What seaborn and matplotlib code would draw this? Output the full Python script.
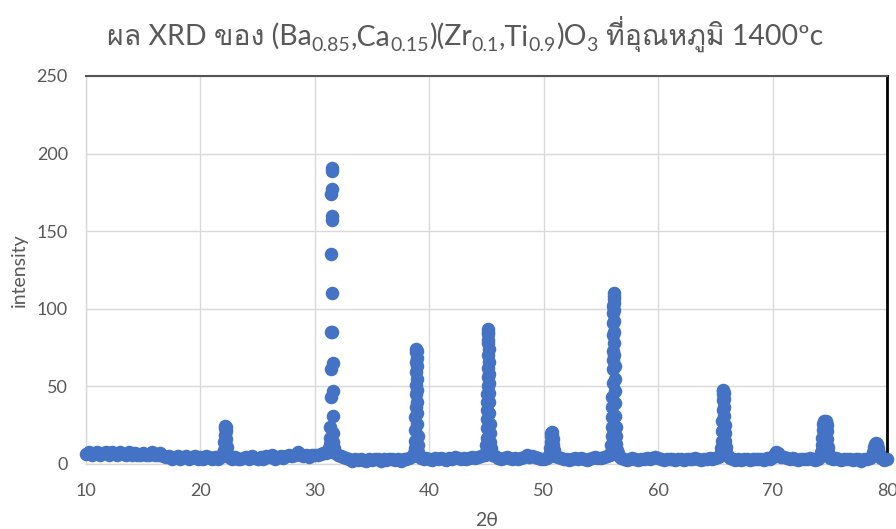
import numpy as np
import pandas as pd
import matplotlib
matplotlib.use("Agg")
import matplotlib.pyplot as plt
import seaborn as sns
from matplotlib import font_manager as fm
from matplotlib.ft2font import FT2Font

# ---------------- data (2theta, intensity) ----------------
base_2theta = [10.0, 10.25, 10.5, 10.75, 11.0, 11.25, 11.5, 11.75, 12.0, 12.25, 12.5, 12.75,
               13.0, 13.25, 13.5, 13.75, 14.0, 14.25, 14.5, 14.75, 15.0, 15.25, 15.5, 15.75,
               16.0, 16.25, 16.5, 16.75, 17.0, 17.25, 17.5, 17.75, 18.0, 18.25, 18.5, 18.75,
               19.0, 19.25, 19.5, 19.75, 20.0, 20.25, 20.5, 20.75, 21.0, 21.25, 21.5, 21.75,
               22.5, 22.75, 23.0, 23.25, 23.5, 23.75, 24.0, 24.25, 24.5, 24.75,
               25.0, 25.25, 25.5, 25.75, 26.0, 26.25, 26.5, 26.75, 27.0, 27.25, 27.5, 27.75,
               28.0, 28.25, 28.5, 28.75, 29.0, 29.25, 29.5, 29.75, 30.0, 30.25, 30.5, 30.75,
               31.75, 32.0, 32.25, 32.5, 32.75, 33.0, 33.25, 33.5, 33.75,
               34.0, 34.25, 34.5, 34.75, 35.0, 35.25, 35.5, 35.75, 36.0, 36.25, 36.5, 36.75,
               37.0, 37.25, 37.5, 37.75, 38.0, 38.25,
               39.0, 39.25, 39.5, 39.75, 40.0, 40.25, 40.5, 40.75, 41.0, 41.25, 41.5, 41.75,
               42.0, 42.25, 42.5, 42.75, 43.0, 43.25, 43.5, 43.75, 44.0, 44.25, 44.5,
               45.75, 46.0, 46.25, 46.5, 46.75, 47.0, 47.25, 47.5, 47.75,
               48.0, 48.25, 48.5, 48.75, 49.0, 49.25, 49.5, 49.75, 50.0, 50.25,
               51.25, 51.5, 51.75, 52.0, 52.25, 52.5, 52.75, 53.0, 53.25, 53.5, 53.75,
               54.0, 54.25, 54.5, 54.75, 55.0, 55.25, 55.5,
               56.6, 56.75, 57.0, 57.25, 57.5, 57.75, 58.0, 58.25, 58.5, 58.75,
               59.0, 59.25, 59.5, 59.75, 60.0, 60.25, 60.5, 60.75, 61.0, 61.25, 61.5, 61.75,
               62.0, 62.25, 62.5, 62.75, 63.0, 63.25, 63.5, 63.75, 64.0, 64.25, 64.5, 64.75,
               65.0, 65.2,
               66.1, 66.3, 66.5, 66.75, 67.0, 67.25, 67.5, 67.75, 68.0, 68.25, 68.5, 68.75,
               69.0, 69.25, 69.5, 69.75, 70.0, 70.15, 70.3, 70.45, 70.6, 70.75,
               71.0, 71.25, 71.5, 71.75, 72.0, 72.25, 72.5, 72.75, 73.0, 73.25, 73.5, 73.75,
               74.0,
               75.0, 75.25, 75.5, 75.75, 76.0, 76.25, 76.5, 76.75, 77.0, 77.25, 77.5, 77.75,
               78.0, 78.25, 78.5,
               79.5, 79.75, 80.0]
base_int = [6.5, 7.5, 6, 7, 7.5, 6, 7, 7.5, 6, 7.5, 6.5, 6,
            7.5, 6.5, 6, 7.5, 6, 7, 5.5, 6, 7, 5.5, 6, 7.5,
            6, 5.5, 7, 5, 4.5, 5, 3.5, 4.5, 5, 3.5, 4.5, 5,
            3.5, 4.5, 5, 3.5, 4.5, 3.5, 5, 4.5, 3.5, 4.5, 3.5, 5,
            4.5, 3.5, 4.5, 3.5, 3, 4, 4.5, 3.5, 5, 4,
            3.5, 4.5, 3.5, 5, 4.5, 5.5, 3.5, 4.5, 5, 4, 5, 5.5,
            5, 6, 7.5, 6, 5, 5.5, 4.5, 6, 5.5, 6, 6.5, 7,
            7, 6, 5, 4.5, 4, 3, 2, 3.5, 2.5,
            3.5, 2.5, 2, 3.5, 2.5, 3.5, 3, 2, 3.5, 2.5, 3.5, 3,
            2.5, 3.5, 2, 3, 3.5, 4,
            5, 4, 3, 4, 3.5, 2.5, 4, 3.5, 4, 3, 2.5, 4,
            3.5, 4.5, 4, 3, 4, 3.5, 4, 4.5, 4, 4.5, 5,
            5, 4, 3, 4, 4.5, 4, 3, 4, 3.5,
            4, 4.5, 5.5, 4.5, 5, 4.5, 4, 3, 3.5, 4,
            4.5, 4, 3, 3.5, 2.5, 3.5, 4, 3.5, 4, 3, 2.5,
            3.5, 4, 4.5, 4, 4, 4.5, 5,
            5, 4, 3, 2.5, 3.5, 4, 3.5, 2.5, 3.5, 3,
            4, 3.5, 4, 4.5, 4, 3, 2.5, 3.5, 3, 3.5, 2.5, 3.5,
            3.5, 2.5, 3.5, 3, 3.5, 4, 3.5, 2.5, 3.5, 3, 4, 3.5,
            4, 4.5,
            5, 4, 3, 2.5, 3.5, 2.5, 3.5, 3, 2.5, 3.5, 3, 3.5,
            3.5, 2.5, 4, 3.5, 4.5, 6, 7.5, 7, 5.5, 4.5,
            4.5, 4, 3, 4, 3.5, 2.5, 3.5, 3, 3.5, 4, 3.5, 2.5,
            3.5,
            4, 3, 4, 3.5, 2.5, 3.5, 3, 3.5, 2.5, 3.5, 3, 2,
            3, 3.5, 4,
            4, 2.5, 3.5]

peak22_2theta = [21.95, 22.0, 22.04, 22.08, 22.11, 22.14, 22.17, 22.2, 22.23, 22.26, 22.3, 22.35, 22.4]
peak22_int = [5, 6, 9, 14, 19, 23, 24.5, 24, 21, 16, 11, 7, 5]

peak31_2theta = [31.0, 31.1, 31.18, 31.24, 31.28, 31.31, 31.34, 31.37, 31.39, 31.40, 31.42, 31.44,
                 31.46, 31.48, 31.50, 31.51, 31.52, 31.53, 31.54, 31.56, 31.57, 31.58, 31.60,
                 31.62, 31.65, 31.70]
peak31_int = [7, 8, 9, 10, 13, 17, 24, 43, 61, 85, 135, 174,
              191, 189, 177, 160, 157, 110, 85, 65, 47, 31, 20,
              14, 10, 8]

peak38_2theta = [38.6, 38.67, 38.72, 38.75, 38.77, 38.79, 38.81, 38.83, 38.84, 38.85, 38.86, 38.87,
                 38.88, 38.89, 38.90, 38.91, 38.92, 38.93, 38.94, 38.95, 38.97, 38.99, 39.02,
                 39.05, 39.1]
peak38_int = [5, 7, 10, 15, 22, 30, 37, 45, 51, 59, 66, 72,
              74, 73, 68, 63, 55, 48, 40, 33, 26, 18, 12,
              8, 6]

peak45_2theta = [44.85, 44.93, 44.98, 45.01, 45.03, 45.05, 45.06, 45.07, 45.08, 45.09, 45.10, 45.11,
                 45.12, 45.13, 45.14, 45.15, 45.16, 45.17, 45.18, 45.19, 45.20, 45.21, 45.22,
                 45.23, 45.25, 45.27, 45.30, 45.33, 45.37, 45.43, 45.5]
peak45_int = [6, 8, 12, 17, 23, 29, 35, 40, 45, 50, 56, 62,
              70, 78, 85, 87, 84, 80, 74, 66, 58, 52, 46,
              40, 33, 26, 20, 14, 10, 7, 6]

peak50_2theta = [50.45, 50.52, 50.56, 50.6, 50.64, 50.68, 50.72, 50.76, 50.8, 50.84, 50.88, 50.94, 51.0]
peak50_int = [5, 7, 10, 14, 18, 20, 20.5, 19, 16, 12, 9, 6, 5]

peak56_2theta = [55.8, 55.87, 55.92, 55.95, 55.97, 55.99, 56.00, 56.01, 56.02, 56.03, 56.04, 56.05,
                 56.06, 56.07, 56.08, 56.09, 56.10, 56.11, 56.12, 56.13, 56.14, 56.15, 56.16,
                 56.17, 56.18, 56.19, 56.20, 56.22, 56.24, 56.26, 56.29, 56.32, 56.36, 56.41, 56.47]
peak56_int = [6, 8, 12, 18, 24, 30, 37, 43, 52, 61, 67, 73,
              83, 91, 97, 102, 106, 110, 108, 104, 99, 92, 85,
              78, 70, 63, 55, 47, 39, 31, 24, 18, 13, 9, 7]

peak65_2theta = [65.4, 65.48, 65.53, 65.56, 65.59, 65.61, 65.63, 65.65, 65.67, 65.69, 65.71,
                 65.73, 65.75, 65.77, 65.79, 65.81, 65.83, 65.86, 65.9, 65.95, 66.0]
peak65_int = [5, 7, 10, 15, 21, 28, 35, 41, 45, 47, 47.5,
              46, 42, 37, 31, 25, 20, 15, 11, 8, 6]

peak74_2theta = [74.2, 74.27, 74.32, 74.36, 74.4, 74.44, 74.48, 74.52, 74.56, 74.6, 74.64,
                 74.68, 74.72, 74.76, 74.8, 74.84, 74.88, 74.94]
peak74_int = [5, 8, 12, 17, 22, 26, 27.5, 27, 26.5, 27, 27.5,
              27, 25, 21, 16, 11, 8, 5]

peak79_2theta = [78.7, 78.8, 78.88, 78.95, 79.02, 79.1, 79.18, 79.26, 79.35]
peak79_int = [5, 8, 11, 13, 13.5, 13, 10, 7, 5]

x_ticks = [10, 20, 30, 40, 50, 60, 70, 80]
y_ticks = [0, 50, 100, 150, 200, 250]
x_label = "2θ"
y_label = "intensity"
title_pieces = [("ผล XRD ของ (Ba", False), ("0.85", True), (",Ca", False), ("0.15", True),
                (")(Zr", False), ("0.1", True), (",Ti", False), ("0.9", True),
                (")O", False), ("3", True), ("ที่อุณหภูมิ 1400ºc", False)]

# ---------------- build table ----------------
xs = (base_2theta + peak22_2theta + peak31_2theta + peak38_2theta + peak45_2theta +
      peak50_2theta + peak56_2theta + peak65_2theta + peak74_2theta + peak79_2theta)
ys = (base_int + peak22_int + peak31_int + peak38_int + peak45_int +
      peak50_int + peak56_int + peak65_int + peak74_int + peak79_int)
df = pd.DataFrame({"two_theta": xs, "intensity": ys}).sort_values("two_theta")

# ---------------- fonts ----------------
sns.set_theme(style="white")
thai_font = None
for f in fm.fontManager.ttflist:
    if f.name == "Loma":
        thai_font = "Loma"
        break
if thai_font is None:
    for f in fm.fontManager.ttflist:
        try:
            if 0x0E1C in FT2Font(f.fname).get_charmap():
                thai_font = f.name
                break
        except Exception:
            pass
plt.rcParams["font.family"] = ["Lato"] + ([thai_font] if thai_font else []) + ["DejaVu Sans"]

TXT = "#595959"
GRID = "#d9d9d9"

fig = plt.figure(figsize=(8.96, 5.29), dpi=100)
ax = fig.add_axes([86 / 896, 1 - 464 / 529, 801 / 896, 388 / 529])

sns.scatterplot(data=df, x="two_theta", y="intensity", ax=ax, s=95,
                color="#4472C4", linewidth=0, clip_on=False, zorder=3)

ax.set_xlim(10, 80)
ax.set_ylim(0, 250)
ax.set_xticks(x_ticks)
ax.set_yticks(y_ticks)
ax.grid(True, color=GRID, linewidth=1)
ax.set_axisbelow(True)
ax.tick_params(axis="both", length=0, labelsize=13, labelcolor=TXT)
ax.tick_params(axis="y", pad=13)
ax.tick_params(axis="x", pad=14)
for side in ("left", "bottom"):
    ax.spines[side].set_color(GRID)
    ax.spines[side].set_linewidth(1)
ax.spines["top"].set_color("#555555")
ax.spines["top"].set_linewidth(1.5)
ax.spines["right"].set_color("#000000")
ax.spines["right"].set_linewidth(2)

ax.set_xlabel(x_label, fontsize=14, color=TXT)
ax.set_ylabel(y_label, fontsize=14, color=TXT)
ax.xaxis.set_label_coords(0.5, -0.124)
ax.yaxis.set_label_coords(-0.072, 0.5)

# ---------------- title with subscripts ----------------
fig.canvas.draw()
renderer = fig.canvas.get_renderer()
MAIN, SUB = 20.5, 14
gap_before_last = 8
texts, widths = [], []
for s, sub in title_pieces:
    t = fig.text(0, 0, s, fontsize=SUB if sub else MAIN, color=TXT, va="baseline",
                 transform=None)
    texts.append((t, sub))
    widths.append(t.get_window_extent(renderer).width)
total = sum(widths) + gap_before_last
cx = 465
baseline_px = 529 - 45
x = cx - total / 2
for i, ((t, sub), w) in enumerate(zip(texts, widths)):
    if i == len(texts) - 1:
        x += gap_before_last
    t.set_position((x, baseline_px - (6 if sub else 0)))
    x += w

fig.savefig("out.png", dpi=100)
